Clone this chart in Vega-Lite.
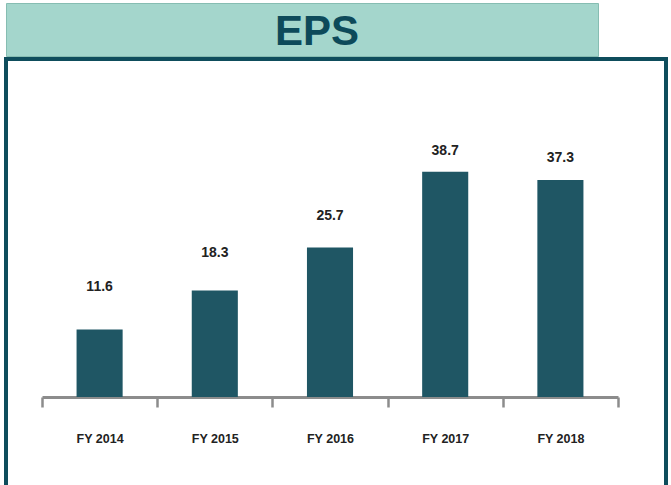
{
  "$schema": "https://vega.github.io/schema/vega-lite/v6.json",
  "background": "white",
  "padding": {"left": 4, "top": 2, "right": 0, "bottom": 0},
  "spacing": 0,
  "config": {"font": "Liberation Sans"},
  "datasets": {
    "eps": [
      {"year": "FY 2014", "eps": 11.6},
      {"year": "FY 2015", "eps": 18.3},
      {"year": "FY 2016", "eps": 25.7},
      {"year": "FY 2017", "eps": 38.7},
      {"year": "FY 2018", "eps": 37.3}
    ],
    "head": [{"title": "EPS"}]
  },
  "vconcat": [
    {
      "width": 592,
      "height": 53,
      "view": {"fill": "#a4d6cc", "stroke": "#86bdb2", "strokeWidth": 1},
      "data": {"name": "head"},
      "mark": {"type": "text", "font": "Liberation Sans", "fontSize": 42, "fontWeight": "bold", "color": "#0d4a5a", "dx": 15, "dy": 2, "baseline": "middle", "align": "center"},
      "encoding": {"text": {"field": "title"}}
    },
    {
      "width": 660,
      "height": 428,
      "view": {"stroke": "#0e4d5c", "strokeWidth": 4},
      "data": {"name": "eps"},
      "layer": [
        {
          "mark": {"type": "bar", "color": "#1f5664", "width": {"band": 0.4}},
          "encoding": {
            "x": {
              "field": "year", "type": "nominal", "sort": null,
              "scale": {"range": [36, 612], "paddingInner": 0, "paddingOuter": 0},
              "axis": {
                "title": null, "labelAngle": 0, "offset": -90,
                "domainColor": "#8c8c8c", "domainWidth": 3,
                "tickBand": "extent", "tickColor": "#8c8c8c", "tickWidth": 2.5, "tickSize": 10,
                "labelFont": "Liberation Sans", "labelFontSize": 12.5, "labelFontWeight": "bold",
                "labelColor": "#222222", "labelPadding": 25
              }
            },
            "y": {
              "field": "eps", "type": "quantitative",
              "scale": {"domain": [0, 58.1], "range": [338, 0], "nice": false, "zero": false},
              "axis": null
            }
          }
        },
        {
          "mark": {"type": "text", "font": "Liberation Sans", "fontSize": 14, "fontWeight": "bold", "color": "#222222", "baseline": "middle", "align": "center"},
          "encoding": {
            "x": {"field": "year", "type": "nominal", "sort": null},
            "y": {
              "field": "eps", "type": "quantitative",
              "scale": {"domain": [-10.36, 56.97], "range": [338, 0], "nice": false, "zero": false},
              "axis": null
            },
            "text": {"field": "eps", "type": "quantitative", "format": ".1f"}
          }
        }
      ],
      "resolve": {"scale": {"y": "independent"}}
    }
  ]
}
